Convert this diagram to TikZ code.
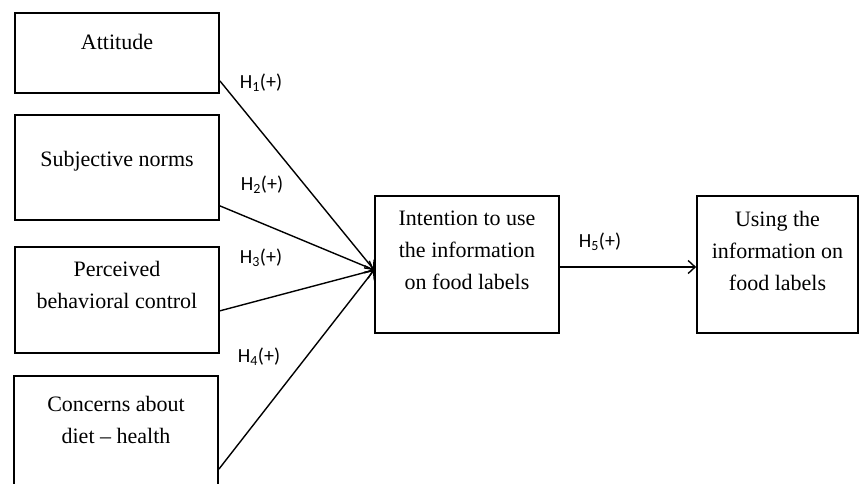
\documentclass[tikz,border=0pt]{standalone}
\usepackage{fontspec}
\setmainfont{Liberation Serif}
\newfontfamily\labfont{Carlito}
\usetikzlibrary{arrows.meta,calc}
\begin{document}
\begin{tikzpicture}[x=1pt,y=-1pt,
  boxst/.style={draw,line width=1.7pt,rectangle,inner sep=0pt},
  txtst/.style={anchor=north,align=center,inner sep=0pt,font=\fontsize{22}{32}\selectfont},
  hlab/.style={font=\labfont\fontsize{20}{22}\selectfont,inner sep=0pt},
  conn/.style={line width=1.4pt,-{Straight Barb[length=7pt,width=13pt,line width=1.4pt]}}]
\useasboundingbox (0,0) rectangle (859,484);
\clip (0,0) rectangle (859,484);
% boxes
\node[boxst,minimum width=204pt,minimum height=80pt] (att) at (117,53) {};
\node[boxst,minimum width=204pt,minimum height=105pt] (sub) at (117,167.5) {};
\node[boxst,minimum width=204pt,minimum height=106pt] (per) at (117,300) {};
\node[boxst,minimum width=204pt,minimum height=130pt] (con) at (116,441) {};
\node[boxst,minimum width=184pt,minimum height=137pt] (int) at (467,264.5) {};
\node[boxst,minimum width=161pt,minimum height=137pt] (use) at (777.5,264.5) {};
% texts
\node[txtst] (tatt) at ($(att.north)+(0,22)$) {Attitude};
\node[txtst] (tsub) at ($(sub.north)+(0,37)$) {Subjective norms};
\node[txtst] (tper) at ($(per.north)+(0,15)$) {Perceived\\behavioral control};
\node[txtst] (tcon) at ($(con.north)+(0,21)$) {Concerns about\\diet -- health};
\node[txtst] (tint) at ($(int.north)+(0,16)$) {Intention to use\\the information\\on food labels};
\node[txtst] (tuse) at ($(use.north)+(0,16)$) {Using the\\information on\\food labels};
% connectors
\coordinate (tip) at ($(int.west)+(0,5.5)$);
\draw[conn] ($(att.south east)+(0,-13)$) -- (tip);
\draw[conn] ($(sub.south east)+(0,-15)$) -- (tip);
\draw[conn] ($(per.south east)+(0,-43)$) -- (tip);
\draw[conn] ($(con.north east)+(0,94)$) -- (tip);
\draw[conn] ($(int.east)+(0,2.5)$) -- ($(use.west)+(0,2.5)$);
% labels
\node[hlab] (h1) at (261,83) {H\textsubscript{1}(+)};
\node[hlab] (h2) at (262,185) {H\textsubscript{2}(+)};
\node[hlab] (h3) at (261,258) {H\textsubscript{3}(+)};
\node[hlab] (h4) at (259,357) {H\textsubscript{4}(+)};
\node[hlab] (h5) at (600,242) {H\textsubscript{5}(+)};
\end{tikzpicture}
\end{document}
